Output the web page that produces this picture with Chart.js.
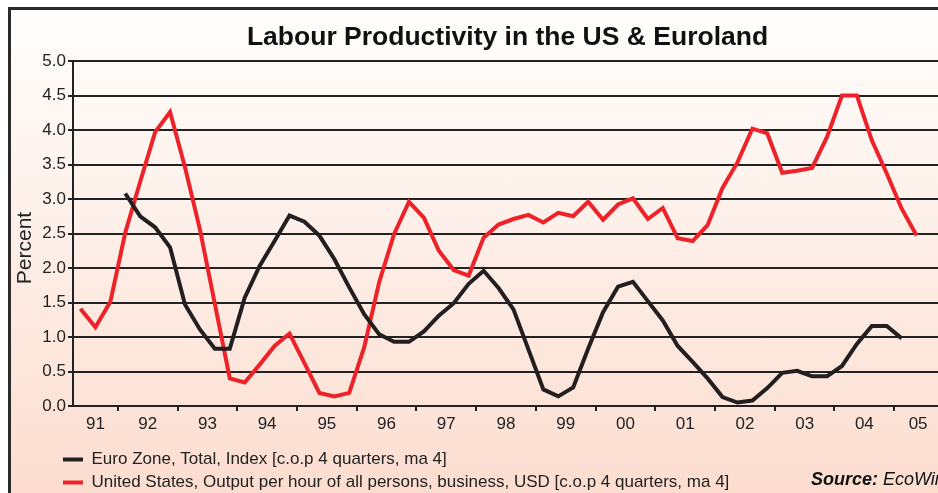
<!DOCTYPE html>
<html>
<head>
<meta charset="utf-8">
<title>Labour Productivity in the US & Euroland</title>
<script src="https://cdn.jsdelivr.net/npm/chart.js@4.4.1/dist/chart.umd.min.js"></script>
<style>
  html, body { margin: 0; padding: 0; background: #fff; overflow: hidden; }
  body { width: 938px; height: 493px; position: relative; }
  .frame {
    position: absolute; left: 8px; top: 7px; width: 1000px; height: 490px;
    border: 3px solid #2b2b2b;
    background: linear-gradient(#fffefd, #fcddcf);
  }
  .wrap { position: absolute; left: 0; top: 0; width: 960px; height: 505px; }
</style>
</head>
<body>
<div class="frame"></div>
<div class="wrap"><canvas id="prodChart"></canvas></div>
<script>
// Data (quarterly, % change over 4 quarters, 4q moving average)
const chartTitle = 'Labour Productivity in the US & Euroland';
const yearLabels = ['91', '92', '93', '94', '95', '96', '97', '98', '99', '00', '01', '02', '03', '04', '05'];

const euroLabel = 'Euro Zone, Total, Index [c.o.p 4 quarters, ma 4]';
const euroFirstQuarter = [1992, 1];
const euroValues = [
  3.08, 2.75, 2.59, 2.30, 1.47, 1.11, 0.83, 0.83, 1.57, 2.03, 2.39, 2.76,
  2.67, 2.47, 2.13, 1.72, 1.33, 1.04, 0.93, 0.93, 1.08, 1.31, 1.49, 1.77,
  1.96, 1.71, 1.40, 0.82, 0.24, 0.14, 0.27, 0.83, 1.36, 1.73, 1.80, 1.52,
  1.24, 0.87, 0.64, 0.40, 0.13, 0.05, 0.08, 0.26, 0.48, 0.51, 0.43, 0.43,
  0.58, 0.90, 1.16, 1.16, 0.98
];

const usLabel = 'United States, Output per hour of all persons, business, USD [c.o.p 4 quarters, ma 4]';
const usFirstQuarter = [1991, 2];
const usValues = [
  1.41, 1.14, 1.51, 2.51, 3.25, 3.97, 4.26, 3.46, 2.56, 1.48, 0.40, 0.34,
  0.60, 0.87, 1.05, 0.62, 0.19, 0.14, 0.19, 0.85, 1.79, 2.49, 2.96, 2.73,
  2.25, 1.97, 1.89, 2.44, 2.63, 2.71, 2.77, 2.66, 2.80, 2.75, 2.96, 2.70,
  2.92, 3.01, 2.71, 2.87, 2.43, 2.39, 2.62, 3.16, 3.53, 4.02, 3.95, 3.38,
  3.41, 3.45, 3.90, 4.50, 4.50, 3.85, 3.37, 2.86, 2.47
];

const xMin = 1991.25;
const xMax = 2005.8;

// quarter index -> decimal year (mid-quarter)
function toPoints(first, values) {
  return values.map((v, i) => {
    const q = (first[1] - 1) + i;
    return { x: first[0] + q / 4 + 0.125, y: v };
  });
}

const yearStarts = yearLabels.slice(1).map((_, i) => 1992 + i);
function labelCenter(i) {
  const from = Math.max(1991 + i, xMin);
  const to = Math.min(1992 + i, xMax);
  return (from + to) / 2;
}

Chart.defaults.font.family = '"Liberation Sans", Arial, sans-serif';
Chart.defaults.color = '#222';

const chartText = {
  id: 'chartText',
  afterLayout(chart) {
    // legend rows start under the y axis labels, not at the canvas edge
    chart.legend.left = 57;
  },
  afterDraw(chart) {
    const { ctx, chartArea } = chart;
    ctx.save();
    ctx.fillStyle = '#111';
    ctx.textBaseline = 'middle';

    // title
    ctx.textAlign = 'center';
    ctx.font = 'bold 26.5px "Liberation Sans", Arial, sans-serif';
    ctx.fillText(chartTitle, (chartArea.left + chartArea.right) / 2, 38);

    // y axis title
    ctx.save();
    ctx.translate(25, 248);
    ctx.rotate(-Math.PI / 2);
    ctx.font = '21px "Liberation Sans", Arial, sans-serif';
    ctx.fillStyle = '#222';
    ctx.fillText('Percent', 0, 0);
    ctx.restore();

    // source
    ctx.textAlign = 'left';
    ctx.font = 'italic bold 18px "Liberation Sans", Arial, sans-serif';
    ctx.fillText('Source:', 811, 480);
    const w = ctx.measureText('Source: ').width;
    ctx.font = 'italic 18px "Liberation Sans", Arial, sans-serif';
    ctx.fillText('EcoWin', 811 + w, 480);
    ctx.restore();
  }
};

const ctx = document.getElementById('prodChart').getContext('2d');
new Chart(ctx, {
  type: 'line',
  data: {
    datasets: [
      {
        label: euroLabel,
        data: toPoints(euroFirstQuarter, euroValues),
        borderColor: '#231f20',
        backgroundColor: '#231f20',
        borderWidth: 4,
        pointRadius: 0,
        tension: 0
      },
      {
        label: usLabel,
        data: toPoints(usFirstQuarter, usValues),
        borderColor: '#ee2229',
        backgroundColor: '#ee2229',
        borderWidth: 4,
        pointRadius: 0,
        tension: 0
      }
    ]
  },
  options: {
    responsive: true,
    maintainAspectRatio: false,
    animation: false,
    layout: { padding: { left: 0, right: 18, top: 61, bottom: 4 } },
    plugins: {
      title: { display: false },
      tooltip: { enabled: false },
      legend: {
        position: 'bottom',
        align: 'start',
        labels: {
          boxWidth: 20,
          boxHeight: 4,
          padding: 6,
          color: '#222',
          font: { size: 17 },
          generateLabels: chart =>
            Chart.defaults.plugins.legend.labels.generateLabels(chart).map(item => ({
              ...item, lineWidth: 0, fillStyle: item.strokeStyle
            }))
        }
      }
    },
    scales: {
      x: {
        type: 'linear',
        position: 'bottom',
        min: xMin,
        max: xMax,
        weight: 0,
        grid: { display: true, drawOnChartArea: false, drawTicks: true, tickLength: 5, color: '#222', lineWidth: 2 },
        border: { display: true, color: '#222', width: 2 },
        ticks: { display: false },
        afterBuildTicks: axis => { axis.ticks = yearStarts.map(v => ({ value: v })); },
        afterFit: axis => { axis.height = 6; }
      },
      xLabels: {
        type: 'linear',
        position: 'bottom',
        min: xMin,
        max: xMax,
        weight: 1,
        grid: { display: false, drawTicks: false, tickLength: 0 },
        border: { display: false },
        ticks: {
          autoSkip: false,
          maxRotation: 0,
          padding: 2,
          color: '#222',
          font: { size: 17 },
          callback: (v, i) => yearLabels[i]
        },
        afterBuildTicks: axis => { axis.ticks = yearLabels.map((_, i) => ({ value: labelCenter(i) })); },
        afterFit: axis => { axis.height = 33; }
      },
      y: {
        min: 0,
        max: 5,
        ticks: { stepSize: 0.5, padding: 2, color: '#222', font: { size: 17 }, callback: v => v.toFixed(1) },
        grid: { color: '#222', lineWidth: 2, tickLength: 5 },
        border: { display: true, color: '#222', width: 2 },
        afterFit: axis => { axis.width = 73; }
      }
    }
  },
  plugins: [chartText]
});
</script>
</body>
</html>
